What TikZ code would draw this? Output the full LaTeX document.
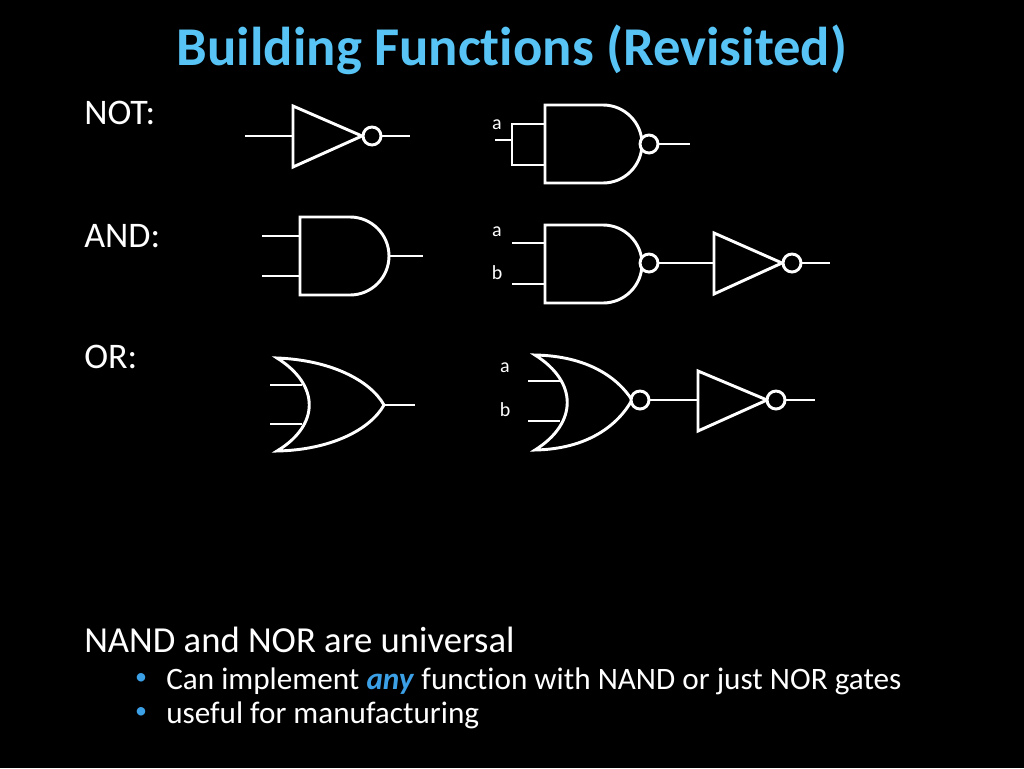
\documentclass[tikz,border=0pt]{standalone}
\usepackage{fontspec}
\setmainfont[Ligatures=NoCommon]{Carlito}
\definecolor{ttl}{RGB}{88,196,245}
\definecolor{bul}{RGB}{60,160,230}
\begin{document}
\begin{tikzpicture}[x=0.75pt,y=-0.75pt,
  w/.style={draw=white,line width=2.2pt},
  bub/.style={circle,draw=white,line width=2.2pt,fill=black,minimum size=13.5pt,inner sep=0pt},
  lbl/.style={text=white,font=\fontsize{15}{17}\selectfont,inner sep=0pt},
  hd/.style={text=white,font=\fontsize{27}{30}\selectfont,anchor=west,inner sep=0pt}]
\fill[black] (0,0) rectangle (1024,768);
\useasboundingbox (0,0) rectangle (1024,768);
\node[text=ttl,font=\bfseries\fontsize{41}{46}\selectfont] (title) at (512,50) {Building Functions (Revisited)};
\node[hd] (hnot) at (84,113) {NOT:};
\node[hd] (hand) at (84,236) {AND:};
\node[hd] (hor) at (84,357) {OR:};
% NOT
\draw[w] (245,136) -- (293,136);
\draw[w,line join=miter] (293,106) -- (293,167) -- (362,136) -- cycle;
\node[bub] (b1) at (372,136) {};
\draw[w] (b1.east) -- (410,136);
% NAND 1
\node[lbl] (la1) at (497,125) {a};
\draw[w] (495,140) -- (512,140);
\draw[w] (545,124) -- (512,124) -- (512,165) -- (545,165);
\draw[w] (545,105) -- (603,105) arc[start angle=-90,end angle=90,radius=39] -- (545,183) -- cycle;
\node[bub] (b2) at (649,144) {};
\draw[w] (b2.east) -- (690,144);
% AND
\draw[w] (262,236) -- (300,236) (262,276) -- (300,276);
\draw[w] (300,217) -- (350,217) arc[start angle=-90,end angle=90,radius=39] -- (300,295) -- cycle;
\draw[w] (389,256) -- (423,256);
% NAND2 + NOT
\node[lbl] (la2) at (497,232) {a};
\node[lbl] (lb2) at (497,273) {b};
\draw[w] (512,243) -- (545,243) (512,284) -- (545,284);
\draw[w] (545,225) -- (603,225) arc[start angle=-90,end angle=90,radius=39] -- (545,303) -- cycle;
\node[bub] (b3) at (649,263) {};
\draw[w] (b3.east) -- (714,263);
\draw[w,line join=miter] (714,233) -- (714,294) -- (782,263) -- cycle;
\node[bub] (b4) at (792,263) {};
\draw[w] (b4.east) -- (830,263);
% OR
\draw[w] (270,385) -- (302,385) (270,424) -- (302,424);
\draw[w] (277,358) .. controls (320,385) and (320,425) .. (277,451)
  .. controls (330,450) and (370,430) .. (384,405)
  .. controls (370,380) and (330,360) .. cycle;
\draw[w] (384,405) -- (415,405);
% NOR + NOT
\node[lbl] (la3) at (505,368) {a};
\node[lbl] (lb3) at (505,410) {b};
\draw[w] (528,381) -- (560,381) (528,421) -- (560,421);
\draw[w] (535,355) .. controls (578,382) and (578,423) .. (535,450)
  .. controls (588,449) and (618,425) .. (632,400)
  .. controls (618,378) and (588,356) .. cycle;
\node[bub] (b5) at (640,400) {};
\draw[w] (b5.east) -- (698,400);
\draw[w,line join=miter] (698,371) -- (698,431) -- (767,400) -- cycle;
\node[bub] (b6) at (776,400) {};
\draw[w] (b6.east) -- (815,400);
% bottom text
\node[hd,font=\fontsize{27.5}{30}\selectfont] (t1) at (84,640) {NAND and NOR are universal};
\node[text=bul,font=\fontsize{18}{20}\selectfont] (d1) at (141,679) {•};
\node[text=bul,font=\fontsize{18}{20}\selectfont] (d2) at (141,713) {•};
\node[hd,font=\fontsize{23.4}{26}\selectfont] (t2) at (166,681) {Can implement \textcolor{bul}{\textbf{\textit{any}}} function with NAND or just NOR gates};
\node[hd,font=\fontsize{23.4}{26}\selectfont] (t3) at (166,715) {useful for manufacturing};
\end{tikzpicture}
\end{document}
